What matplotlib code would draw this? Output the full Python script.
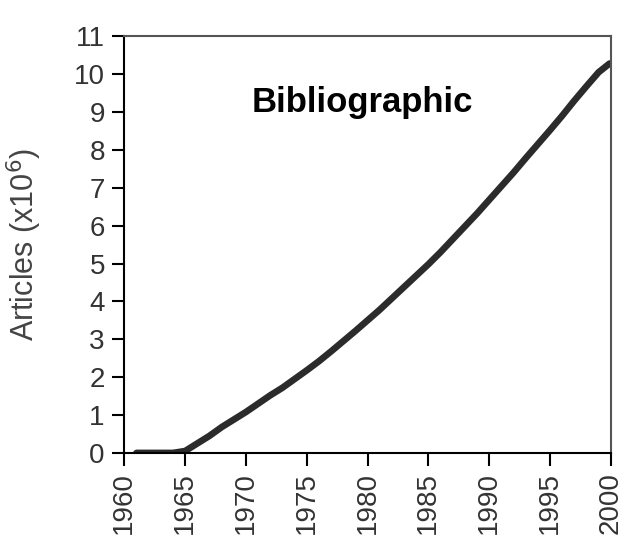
import matplotlib
matplotlib.use("Agg")
import matplotlib.pyplot as plt

plt.rcParams['font.family'] = ['Liberation Sans', 'DejaVu Sans']

# Cumulative bibliographic articles (millions)
years = [1961, 1962, 1963, 1964, 1965, 1966, 1967, 1968, 1969, 1970,
         1971, 1972, 1973, 1974, 1975, 1976, 1977, 1978, 1979, 1980,
         1981, 1982, 1983, 1984, 1985, 1986, 1987, 1988, 1989, 1990,
         1991, 1992, 1993, 1994, 1995, 1996, 1997, 1998, 1999, 1999.9]
articles = [0.0, 0.0, 0.0, 0.0, 0.05, 0.25, 0.45, 0.68, 0.88, 1.08,
            1.3, 1.52, 1.72, 1.95, 2.18, 2.42, 2.68, 2.95, 3.22, 3.5,
            3.78, 4.08, 4.38, 4.68, 4.98, 5.3, 5.64, 5.98, 6.32, 6.68,
            7.04, 7.4, 7.78, 8.15, 8.52, 8.9, 9.3, 9.68, 10.05, 10.28]

x_ticks = list(range(1960, 2001, 5))
y_ticks = list(range(0, 12))

fig = plt.figure(figsize=(6.31, 5.49), dpi=100)
ax = fig.add_axes([0.197, 0.175, 0.771, 0.759])

ax.plot(years, articles, color='#2b2b2b', linewidth=4.8, solid_capstyle='round')

ax.set_xlim(1960, 2000)
ax.set_ylim(0, 11)
ax.set_xticks(x_ticks)
ax.set_yticks(y_ticks)
ax.set_xticklabels([str(y) for y in x_ticks], rotation=90)
ax.tick_params(direction='out', length=9, width=1.5, labelsize=20,
               labelcolor='#333333', color='black', pad=5)

for s in ax.spines.values():
    s.set_linewidth(1.5)
ax.spines['top'].set_color('#555555')
ax.spines['right'].set_color('#555555')

ax.set_ylabel('Articles (x10$^6$)', fontsize=22, color='#444444')
ax.yaxis.set_label_coords(-0.165, 0.5)

ax.text(0.489, 0.84, 'Bibliographic', transform=ax.transAxes,
        ha='center', va='center', fontsize=25, fontweight='bold')

fig.savefig('out.png', dpi=100)
